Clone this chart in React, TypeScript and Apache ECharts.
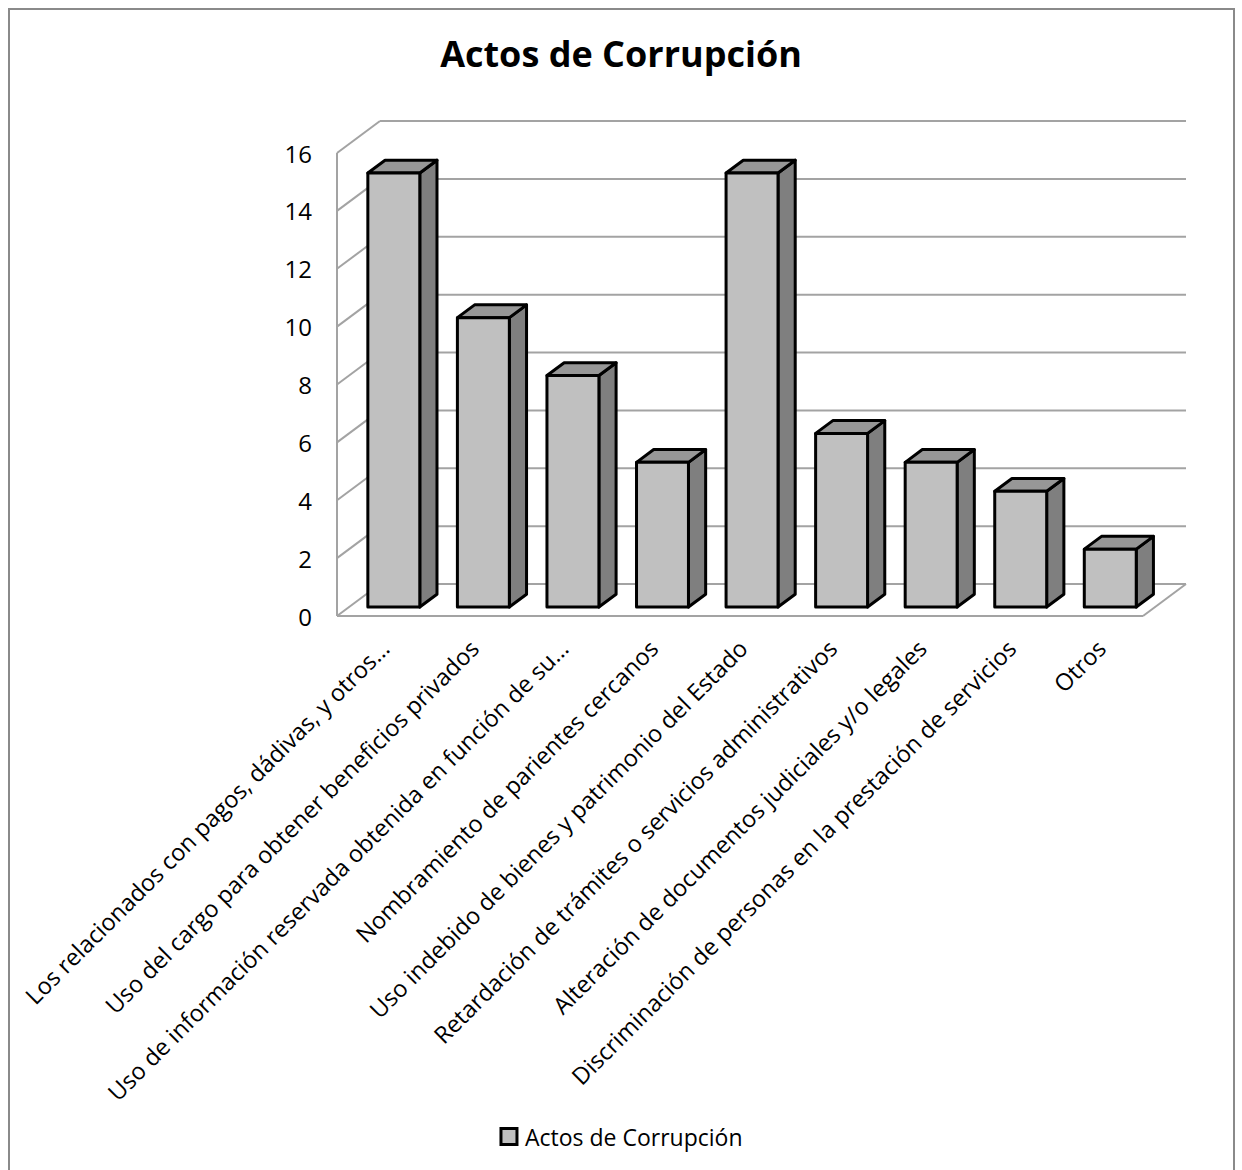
import React, { useEffect, useRef } from "react";
import * as echarts from "echarts";

const categories = [
  "Los relacionados con pagos, dádivas, y otros…",
  "Uso del cargo para obtener beneficios privados",
  "Uso de información reservada obtenida en función de su…",
  "Nombramiento de parientes cercanos",
  "Uso indebido de bienes y patrimonio del Estado",
  "Retardación de trámites o servicios administrativos",
  "Alteración de documentos judiciales y/o legales",
  "Discriminación de personas en la prestación de servicios",
  "Otros",
];
const values = [15, 10, 8, 5, 15, 6, 5, 4, 2];
const yTicks = [0, 2, 4, 6, 8, 10, 12, 14, 16];
const seriesName = "Actos de Corrupción";

// Oblique projection of the 3D box: full depth of the floor / side wall
const DEPTH_X = 43;
const DEPTH_Y = -32;
// Bars sit inside the depth between these fractions
const BAR_FRONT = 0.28;
const BAR_DEPTH = 0.4;
const BAR_WIDTH_RATIO = 0.58;

const FONT = "'Open Sans', 'Noto Sans', sans-serif";
const WALL_COLOR = "#a3a3a3";

export default function App() {
  const ref = useRef<HTMLDivElement>(null);

  useEffect(() => {
    if (!ref.current) return;
    const chart = echarts.init(ref.current, null, { renderer: "svg" });

    const renderWalls = (params: any, api: any) => {
      const v = api.value(1);
      const cs = params.coordSys;
      const y = api.coord([0, v])[1];
      const x0 = cs.x;
      const x1 = cs.x + cs.width;
      const style = { stroke: WALL_COLOR, lineWidth: 2, fill: null };
      const children: any[] = [
        {
          type: "line",
          shape: { x1: x0, y1: y, x2: x0 + DEPTH_X, y2: y + DEPTH_Y },
          style,
        },
        {
          type: "line",
          shape: { x1: x0 + DEPTH_X, y1: y + DEPTH_Y, x2: x1 + DEPTH_X, y2: y + DEPTH_Y },
          style,
        },
      ];
      if (v === 0) {
        children.push(
          { type: "line", shape: { x1: x0, y1: y, x2: x1, y2: y }, style },
          { type: "line", shape: { x1: x1, y1: y, x2: x1 + DEPTH_X, y2: y + DEPTH_Y }, style },
          { type: "line", shape: { x1: x0, y1: y, x2: x0, y2: cs.y }, style }
        );
      }
      return { type: "group", children };
    };

    const renderBars = (params: any, api: any) => {
      const idx = api.value(0);
      const val = api.value(1);
      const top = api.coord([idx, val]);
      const base = api.coord([idx, 0]);
      const band = api.size([1, 0])[0];
      const w = band * BAR_WIDTH_RATIO;
      const ox = DEPTH_X * BAR_FRONT;
      const oy = DEPTH_Y * BAR_FRONT;
      const bdx = DEPTH_X * BAR_DEPTH;
      const bdy = DEPTH_Y * BAR_DEPTH;
      const xl = top[0] - w / 2 + ox;
      const xr = xl + w;
      const yt = top[1] + oy;
      const yb = base[1] + oy;
      const edge = { stroke: "#000", lineWidth: 3, lineJoin: "round" };
      return {
        type: "group",
        children: [
          {
            type: "polygon",
            shape: {
              points: [
                [xr, yt],
                [xr + bdx, yt + bdy],
                [xr + bdx, yb + bdy],
                [xr, yb],
              ],
            },
            style: { fill: "#7f7f7f", ...edge },
          },
          {
            type: "polygon",
            shape: {
              points: [
                [xl, yt],
                [xl + bdx, yt + bdy],
                [xr + bdx, yt + bdy],
                [xr, yt],
              ],
            },
            style: { fill: "#979797", ...edge },
          },
          {
            type: "rect",
            shape: { x: xl, y: yt, width: w, height: yb - yt },
            style: { fill: "#c0c0c0", ...edge },
          },
        ],
      };
    };

    const gridBox = { left: 337, width: 806, top: 153, bottom: 554 };

    chart.setOption({
      animation: false,
      backgroundColor: "#fff",
      title: {
        text: seriesName,
        left: "center",
        top: 30,
        textStyle: { fontFamily: FONT, fontSize: 36, fontWeight: "bold", color: "#000" },
      },
      legend: {
        data: [seriesName],
        top: 1120,
        left: "center",
        icon: "rect",
        itemWidth: 16,
        itemHeight: 16,
        itemGap: 4,
        itemStyle: { color: "#c0c0c0", borderColor: "#000", borderWidth: 3 },
        textStyle: { fontFamily: FONT, fontSize: 23, color: "#000", padding: [0, 0, 0, 3] },
      },
      grid: [
        { ...gridBox, containLabel: false },
        { ...gridBox, left: 340, containLabel: false },
      ],
      xAxis: [
        {
          type: "category",
          data: categories,
          gridIndex: 0,
          axisLine: { show: false },
          axisTick: { show: false },
          axisLabel: { show: false },
        },
        {
          type: "category",
          data: categories,
          gridIndex: 1,
          axisLine: { show: false },
          axisTick: { show: false },
          axisLabel: {
            interval: 0,
            rotate: 45,
            margin: 28,
            fontFamily: FONT,
            fontSize: 23.5,
            color: "#000",
          },
        },
      ],
      yAxis: [
        {
          type: "value",
          gridIndex: 0,
          min: 0,
          max: 16,
          interval: 2,
          axisLine: { show: false },
          axisTick: { show: false },
          splitLine: { show: false },
          axisLabel: { margin: 25, fontFamily: FONT, fontSize: 24, color: "#000" },
        },
        {
          type: "value",
          gridIndex: 1,
          min: 0,
          max: 16,
          show: false,
        },
      ],
      graphic: [
        {
          type: "rect",
          silent: true,
          shape: { x: 9, y: 9, width: 1225, height: 1180 },
          style: { fill: null, stroke: "#8a8a8a", lineWidth: 2 },
        },
      ],
      series: [
        {
          name: "walls",
          type: "custom",
          xAxisIndex: 0,
          yAxisIndex: 0,
          silent: true,
          z: 1,
          renderItem: renderWalls,
          encode: { x: 0, y: 1 },
          data: yTicks.map((v) => [0, v]),
        },
        {
          name: seriesName,
          type: "custom",
          xAxisIndex: 0,
          yAxisIndex: 0,
          z: 2,
          itemStyle: { color: "#c0c0c0" },
          renderItem: renderBars,
          encode: { x: 0, y: 1 },
          data: values.map((v, i) => [i, v]),
        },
      ],
    });

    return () => chart.dispose();
  }, []);

  return (
    <div
      ref={ref}
      style={{ position: "absolute", left: 0, top: 0, width: 1242, height: 1170 }}
    />
  );
}
